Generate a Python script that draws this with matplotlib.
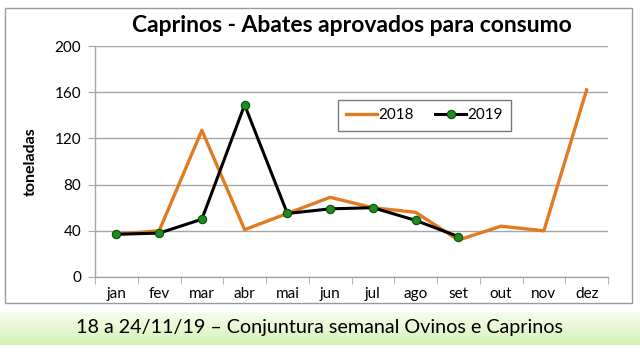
import numpy as np
import matplotlib

matplotlib.use("Agg")
import matplotlib.pyplot as plt
from matplotlib.patches import Rectangle

MONTHS = ["jan", "fev", "mar", "abr", "mai", "jun", "jul", "ago", "set", "out", "nov", "dez"]
VALUES_2018 = [37, 40, 127, 41, 55, 69, 60, 56, 32, 44, 40, 162]
VALUES_2019 = [37, 38, 50, 149, 55, 59, 60, 49, 35]
Y_TICKS = [0, 40, 80, 120, 160, 200]

ORANGE = "#E07B22"
GRID = "#A6A6A6"
FONT = "Lato"

plt.rcParams["font.family"] = [FONT, "DejaVu Sans"]

fig = plt.figure(figsize=(6.4, 3.6), dpi=100)
W, H = 640, 360

# chart frame
fig.patches.append(Rectangle((5 / W, 1 - 303 / H), 627 / W, 295 / H,
                             transform=fig.transFigure, facecolor="white",
                             edgecolor="#9A9A9A", linewidth=1.0, zorder=-5))

# footer band with light green gradient
band = fig.add_axes([0, 1 - 345 / H, 1, 33 / H])
grad = np.linspace(0, 1, 64).reshape(-1, 1)
top = np.array([0.97, 0.99, 0.93])
bot = np.array([0.84, 0.95, 0.72])
img = top + (bot - top) * grad[..., None]
band.imshow(img, aspect="auto", extent=[0, 1, 0, 1])
band.set_axis_off()
fig.text(0.5, 1 - 328 / H, "18 a 24/11/19 – Conjuntura semanal Ovinos e Caprinos",
         ha="center", va="center", fontsize=14.2, color="black")

ax = fig.add_axes([95 / W, 1 - 277 / H, 513 / W, 231 / H])
ax.patch.set_alpha(0)
x = np.arange(len(MONTHS))
ax.plot(x, VALUES_2018, color=ORANGE, linewidth=2.4, label="2018", zorder=3)
ax.plot(x[:len(VALUES_2019)], VALUES_2019, color="black", linewidth=2.2,
        marker="o", markersize=6, markerfacecolor="#1E8C1E",
        markeredgecolor="#0B4D0B", markeredgewidth=0.8, label="2019", zorder=4)

ax.set_xlim(-0.5, len(MONTHS) - 0.5)
ax.set_ylim(0, 200)
ax.set_yticks(Y_TICKS)
ax.set_xticks(x)
ax.set_xticklabels(MONTHS, fontsize=11)
ax.set_xticks(np.arange(-0.5, len(MONTHS)), minor=True)
ax.tick_params(axis="x", which="major", length=0, pad=7)
ax.tick_params(axis="x", which="minor", length=5, color=GRID, direction="out")
ax.tick_params(axis="y", length=5, color=GRID, labelsize=11, pad=5)
ax.yaxis.grid(True, color=GRID, linewidth=1.0)
ax.set_axisbelow(True)
for side in ("top", "right"):
    ax.spines[side].set_visible(False)
for side in ("left", "bottom"):
    ax.spines[side].set_color(GRID)
    ax.spines[side].set_linewidth(1.0)

ax.set_ylabel("toneladas", fontsize=11.5, fontweight="bold", labelpad=12)
ax.set_title("Caprinos - Abates aprovados para consumo", fontsize=16.5,
             fontweight="bold", pad=10)

leg = ax.legend(loc="upper left", bbox_to_anchor=(243 / 513, 1 - 54 / 231),
                ncol=2, frameon=True, fancybox=False, fontsize=11,
                handlelength=2.0, handletextpad=0.1, columnspacing=1.4,
                borderpad=0.55, borderaxespad=0)
leg.get_frame().set_edgecolor("#595959")
leg.get_frame().set_linewidth(1.0)

fig.savefig("out.png", dpi=100)
